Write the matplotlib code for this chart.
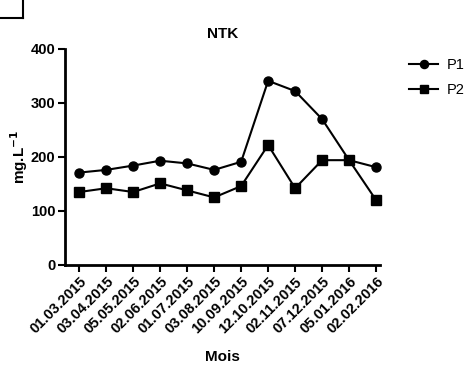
import matplotlib
matplotlib.use('Agg')
import matplotlib.pyplot as plt
from matplotlib.lines import Line2D

plt.rcParams['font.family'] = ['Liberation Sans', 'DejaVu Sans']

dates = ['01.03.2015', '03.04.2015', '05.05.2015', '02.06.2015', '01.07.2015',
         '03.08.2015', '10.09.2015', '12.10.2015', '02.11.2015', '07.12.2015',
         '05.01.2016', '02.02.2016']
p1 = [171, 176, 184, 193, 188, 176, 191, 341, 322, 270, 194, 181]
p2 = [135, 142, 135, 151, 138, 125, 146, 222, 142, 194, 194, 120]
y_ticks = [0, 100, 200, 300, 400]

fig = plt.figure(figsize=(4.67, 3.71), dpi=100)
ax = fig.add_axes([0.139, 0.286, 0.675, 0.582])

x = list(range(len(dates)))
ax.plot(x, p1, color='black', lw=1.5, marker='o', ms=6.5, label='P1', clip_on=False)
ax.plot(x, p2, color='black', lw=1.5, marker='s', ms=6.5, label='P2', clip_on=False)

ax.set_xlim(-0.53, 11.15)
ax.set_ylim(0, 400)
ax.set_yticks(y_ticks)
ax.set_xticks(x)
ax.set_xticklabels(dates, rotation=45, ha='right', rotation_mode='anchor')

for s in ['top', 'right']:
    ax.spines[s].set_visible(False)
for s in ['left', 'bottom']:
    ax.spines[s].set_linewidth(2)
ax.tick_params(width=1.5, length=5, direction='out', labelsize=10.5, pad=2)
for lab in ax.get_xticklabels() + ax.get_yticklabels():
    lab.set_fontweight('bold')

ax.set_title('NTK', fontsize=11, fontweight='bold', pad=8)
ax.set_xlabel('Mois', fontsize=11, fontweight='bold', labelpad=10)
ax.set_ylabel('mg.L$^{\\mathbf{-1}}$', fontsize=11, fontweight='bold', labelpad=0)

leg = ax.legend(loc='upper left', bbox_to_anchor=(1.05, 1.02), frameon=False,
                fontsize=10.5, handlelength=2.0, handletextpad=0.6, labelspacing=0.8,
                markerscale=0.9)

# corner of a box in the top-left
fig.add_artist(Line2D([0, 23 / 467], [1 - 18 / 371, 1 - 18 / 371], color='black', lw=1.5))
fig.add_artist(Line2D([23 / 467, 23 / 467], [1, 1 - 18 / 371], color='black', lw=1.5))

fig.savefig('out.png', dpi=100)
